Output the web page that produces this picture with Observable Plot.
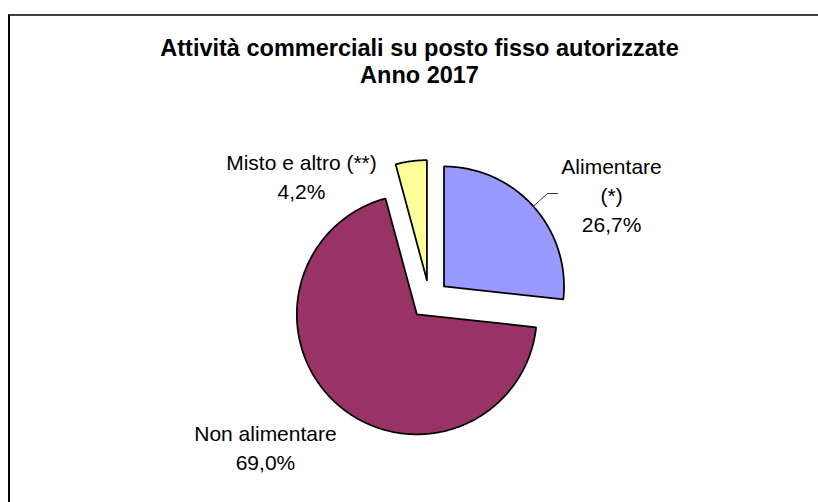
<!DOCTYPE html>
<html>
<head>
<meta charset="utf-8">
<script src="https://cdn.jsdelivr.net/npm/d3@7"></script>
<script src="https://cdn.jsdelivr.net/npm/@observablehq/plot@0.6"></script>
<style>
  html, body { margin: 0; padding: 0; background: white; overflow: hidden; }
  #wrap { position: relative; width: 818px; height: 502px; }
  #border { position: absolute; left: 8px; top: 14px; width: 900px; height: 600px;
            border-top: 2px solid #404040; border-left: 2px solid #000; pointer-events: none; }
</style>
</head>
<body>
<div id="wrap"><div id="chart"></div><div id="border"></div></div>
<script>
// ---- data ----
const categories = ["Alimentare (*)", "Non alimentare", "Misto e altro (**)"];
const shares = [26.7, 69.0, 4.2];
const labelLines = [["Alimentare", "(*)"], ["Non alimentare"], ["Misto e altro (**)"]];
const colors = ["#9999FF", "#993366", "#FFFF99"];
const titleLines = ["Attività commerciali su posto fisso autorizzate", "Anno 2017"];

// ---- layout (pixels / radius units) ----
const W = 818, H = 502;
const cx = 429, cy = 299, Rpx = 120;   // pie centre and radius
const explode = 0.1625;                // explosion distance in radius units
const labelOffsets = [[1.517, 0.881], [-1.367, -1.223], [-1.067, 1.035]];
const leaderElbow = [[0.983, 0.883], [1.067, 0.883]];

const fmt = v => v.toFixed(1).replace(".", ",") + "%";

const arcs = d3.pie().sort(null).value(d => d)(shares);
const poly = [];
const mids = [];
arcs.forEach((a, i) => {
  const mid = (a.startAngle + a.endAngle) / 2;
  const ox = explode * Math.sin(mid), oy = explode * Math.cos(mid);
  mids.push({mid, ox, oy});
  const pts = [[ox, oy]];
  const n = Math.max(4, Math.ceil((a.endAngle - a.startAngle) / (Math.PI / 360)));
  for (let k = 0; k <= n; k++) {
    const t = a.startAngle + (a.endAngle - a.startAngle) * k / n;
    pts.push([ox + Math.sin(t), oy + Math.cos(t)]);
  }
  pts.push([ox, oy]);
  pts.forEach(([x, y]) => poly.push({x, y, cat: categories[i]}));
});

const labels = categories.map((c, i) => ({
  x: labelOffsets[i][0], y: labelOffsets[i][1],
  text: [...labelLines[i], fmt(shares[i])].join("\n")
}));

// leader line for the first slice (Alimentare)
const m0 = mids[0];
const leader = [
  {x: m0.ox + Math.sin(m0.mid), y: m0.oy + Math.cos(m0.mid)},
  {x: leaderElbow[0][0], y: leaderElbow[0][1]},
  {x: leaderElbow[1][0], y: leaderElbow[1][1]}
];

const chart = Plot.plot({
  width: W, height: H,
  marginTop: 0, marginRight: 0, marginBottom: 0, marginLeft: 0,
  style: {fontFamily: "Arial, 'Liberation Sans', sans-serif", background: "white", overflow: "visible"},
  x: {domain: [-cx / Rpx, (W - cx) / Rpx], axis: null},
  y: {domain: [(cy - H) / Rpx, cy / Rpx], axis: null},
  color: {domain: categories, range: colors},
  marks: [
    Plot.line(poly, {x: "x", y: "y", z: "cat", fill: "cat", stroke: "black",
                     strokeWidth: 1.75, strokeLinejoin: "miter", curve: "linear"}),
    Plot.line(leader, {x: "x", y: "y", stroke: "#333", strokeWidth: 1}),
    Plot.text(labels, {x: "x", y: "y", text: "text", fontSize: 21, lineHeight: 1.38,
                       lineAnchor: "middle", textAnchor: "middle", fill: "black"}),
    Plot.text([titleLines.join("\n")], {frameAnchor: "top", dx: 10, dy: 36.7, lineAnchor: "top",
                       fontSize: 23.5, fontWeight: "bold", lineHeight: 1.15, fill: "black"})
  ]
});
document.getElementById("chart").appendChild(chart);
</script>
</body>
</html>
